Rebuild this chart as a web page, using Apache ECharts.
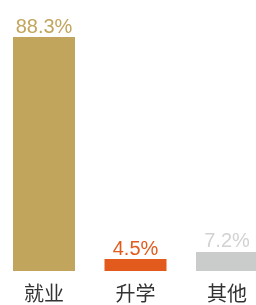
<!DOCTYPE html>
<html>
<head>
<meta charset="utf-8">
<script src="https://cdn.jsdelivr.net/npm/echarts@6/dist/echarts.min.js"></script>
<style>
  html, body { margin: 0; padding: 0; background: #fff; }
  #chart { width: 256px; height: 305px; }
</style>
</head>
<body>
<div id="chart"></div>
<script>
const categories = ["就业", "升学", "其他"];
const values = [88.3, 4.5, 7.2];
const barColors = ["#c2a55d", "#e25b1d", "#cacbcb"];
const labelColors = ["#c2a55d", "#e25b1d", "#d2d2d2"];

const chart = echarts.init(document.getElementById("chart"));

const option = {
    animation: false,
    grid: {
        top: 6,
        bottom: 34,
        left: 44,
        right: 29,
        containLabel: false,
    },
    xAxis: {
        type: "category",
        data: categories,
        boundaryGap: false,
        axisLine: { show: false },
        axisTick: { show: false },
        axisLabel: {
            color: "#333",
            fontSize: 20,
            margin: 12,
            fontFamily: "Noto Sans CJK SC",
        },
    },
    yAxis: {
        type: "value",
        min: 0,
        max: 100,
        show: false,
    },
    series: [
        {
            type: "bar",
            barWidth: 62,
            clip: false,
            data: values.map((v, i) => ({
                value: v,
                itemStyle: { color: barColors[i] },
                label: { color: labelColors[i] },
            })),
            label: {
                show: true,
                position: "top",
                distance: 0,
                fontSize: 20,
                fontFamily: "Liberation Sans",
                formatter: (p) => p.value + "%",
            },
        },
    ],
};

chart.setOption(option);
</script>
</body>
</html>
